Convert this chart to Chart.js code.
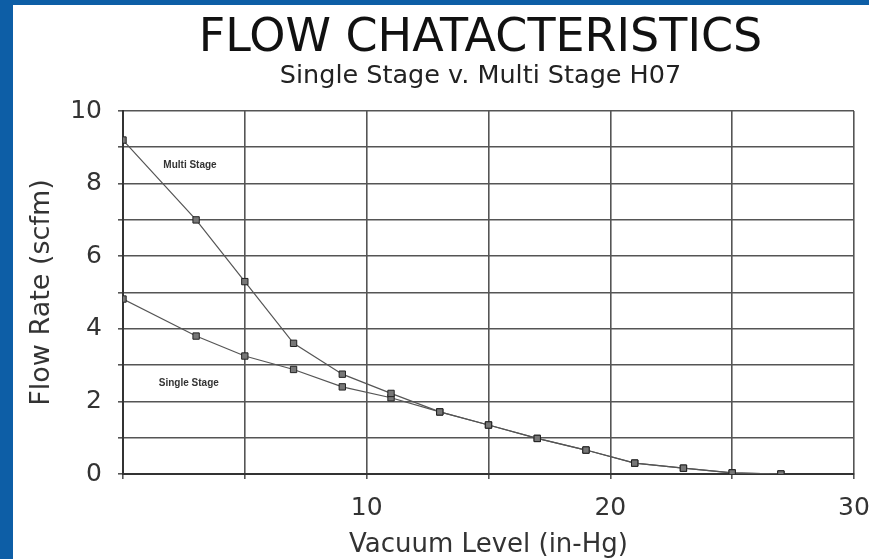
<!DOCTYPE html>
<html>
<head>
<meta charset="utf-8">
<script src="https://cdn.jsdelivr.net/npm/chart.js@4/dist/chart.umd.min.js"></script>
<style>
  html, body { margin: 0; padding: 0; background: #0d5ea6; }
  #wrap { position: absolute; left: 13px; top: 5px; width: 856px; height: 554px; background: #fff; }
</style>
</head>
<body>
<div id="wrap"><canvas id="flowChart" width="856" height="554"></canvas></div>
<script>
// Data
const vacuum = [0, 3, 5, 7, 9, 11, 13, 15, 17, 19, 21, 23, 25, 27];
const multiStage = [9.2, 7.0, 5.3, 3.6, 2.75, 2.22, 1.71, 1.35, 0.98, 0.66, 0.3, 0.16, 0.03, 0];
const singleStage = [4.82, 3.8, 3.25, 2.88, 2.4, 2.1, 1.71, 1.35, 0.98, 0.66, 0.3, 0.16, 0.03, 0];
const yLabels = [0, 2, 4, 6, 8, 10];
const xLabels = [10, 20, 30];

const mainTitle = 'FLOW CHATACTERISTICS';
const subTitle = 'Single Stage v. Multi Stage H07';

function toPoints(xs, ys) {
    return xs.map((x, i) => ({ x: x, y: ys[i] }));
}

// Titles sit over the plot, not over the whole canvas
const titles = {
    id: 'titles',
    afterDraw(chart) {
        const { ctx, chartArea } = chart;
        const cx = (chartArea.left + chartArea.right) / 2 - 8;
        ctx.save();
        ctx.textAlign = 'center';
        ctx.textBaseline = 'middle';
        ctx.fillStyle = '#111';
        ctx.font = '46px "DejaVu Sans", Verdana, sans-serif';
        ctx.fillText(mainTitle, cx, 34);
        ctx.fillStyle = '#222';
        ctx.font = '25.5px "DejaVu Sans", Verdana, sans-serif';
        ctx.fillText(subTitle, cx, 71);
        ctx.restore();
    }
};

// Curve names written inside the plot
const curveNames = {
    id: 'curveNames',
    afterDatasetsDraw(chart) {
        const { ctx, scales: { x, y } } = chart;
        ctx.save();
        ctx.font = 'bold 10px "Liberation Sans", Arial, sans-serif';
        ctx.fillStyle = '#333';
        ctx.textAlign = 'center';
        ctx.textBaseline = 'middle';
        ctx.fillText('Multi Stage', x.getPixelForValue(2.75), y.getPixelForValue(8.5));
        ctx.fillText('Single Stage', x.getPixelForValue(2.7), y.getPixelForValue(2.5));
        ctx.restore();
    }
};

const gridColor = '#555';
const lineStyle = {
    showLine: true,
    borderColor: '#555',
    borderWidth: 1.2,
    pointStyle: 'rect',
    pointRadius: 4.5,
    pointBackgroundColor: '#777',
    pointBorderColor: '#222',
    pointBorderWidth: 1,
    tension: 0
};

const ctx = document.getElementById('flowChart').getContext('2d');
new Chart(ctx, {
    type: 'scatter',
    data: {
        datasets: [
            Object.assign({ label: 'Multi Stage', data: toPoints(vacuum, multiStage) }, lineStyle),
            Object.assign({ label: 'Single Stage', data: toPoints(vacuum, singleStage) }, lineStyle)
        ]
    },
    options: {
        responsive: false,
        animation: false,
        devicePixelRatio: 1,
        layout: { padding: { left: 0, right: 15, top: 106, bottom: 0 } },
        plugins: {
            legend: { display: false },
            tooltip: { enabled: false }
        },
        scales: {
            x: {
                type: 'linear',
                min: 0,
                max: 30,
                afterFit(scale) {
                    scale.height = 85;
                    scale.paddingLeft = 0;
                    scale.paddingRight = 0;
                },
                border: { color: '#333', width: 2 },
                grid: { color: gridColor, lineWidth: 1.6, tickLength: 5 },
                ticks: {
                    stepSize: 5,
                    padding: 14,
                    color: '#333',
                    font: { family: '"DejaVu Sans", Verdana, sans-serif', size: 25 },
                    callback: v => xLabels.includes(v) ? String(v) : ''
                },
                title: {
                    display: true,
                    text: 'Vacuum Level (in-Hg)',
                    color: '#333',
                    font: { family: '"DejaVu Sans", Verdana, sans-serif', size: 26, lineHeight: 1 },
                    padding: { top: 0, bottom: 1 }
                }
            },
            y: {
                min: 0,
                max: 10,
                afterFit(scale) { scale.width = 110; },
                border: { color: '#333', width: 2 },
                grid: { color: gridColor, lineWidth: 1.6, tickLength: 5 },
                ticks: {
                    stepSize: 1,
                    padding: 16,
                    color: '#333',
                    font: { family: '"DejaVu Sans", Verdana, sans-serif', size: 25 },
                    callback: v => yLabels.includes(v) ? String(v) : ''
                },
                title: {
                    display: true,
                    text: 'Flow Rate (scfm)',
                    color: '#333',
                    font: { family: '"DejaVu Sans", Verdana, sans-serif', size: 27, lineHeight: 1 },
                    padding: { top: 15, bottom: 0 }
                }
            }
        }
    },
    plugins: [curveNames, titles]
});
</script>
</body>
</html>
